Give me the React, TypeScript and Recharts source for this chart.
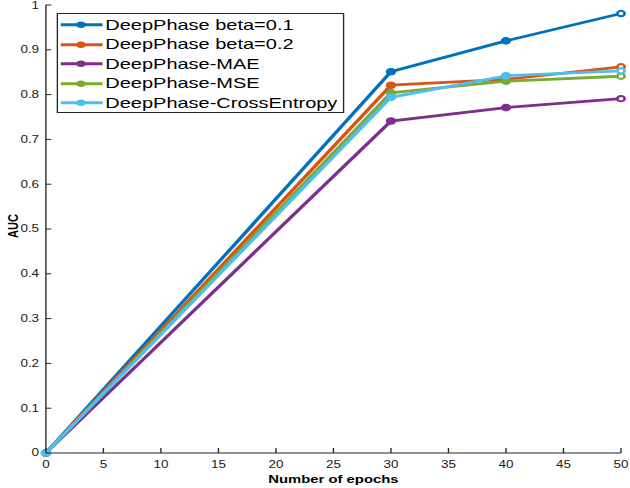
import { LineChart, Line, XAxis, YAxis, Legend } from 'recharts';

// epochs where AUC was measured
const epochs = [0, 30, 40, 50];

// AUC per model
const beta01 = [0, 0.851, 0.92, 0.981];
const beta02 = [0, 0.821, 0.834, 0.862];
const mae = [0, 0.741, 0.771, 0.791];
const mse = [0, 0.804, 0.83, 0.841];
const crossEntropy = [0, 0.794, 0.842, 0.853];

const seriesNames = [
  'DeepPhase beta=0.1',
  'DeepPhase beta=0.2',
  'DeepPhase-MAE',
  'DeepPhase-MSE',
  'DeepPhase-CrossEntropy',
];
const seriesKeys = ['beta01', 'beta02', 'mae', 'mse', 'crossEntropy'];
const seriesColors = ['#0072BD', '#D95319', '#7E2F8E', '#77AC30', '#4DBEEE'];

const xTicks = [0, 5, 10, 15, 20, 25, 30, 35, 40, 45, 50];
const yTicks = [0, 0.1, 0.2, 0.3, 0.4, 0.5, 0.6, 0.7, 0.8, 0.9, 1];

const rows = epochs.map((epoch, i) => ({
  epoch,
  beta01: beta01[i],
  beta02: beta02[i],
  mae: mae[i],
  mse: mse[i],
  crossEntropy: crossEntropy[i],
}));

// the original figure is stretched sideways, so draw narrow and scale
const SX = 1.35;
const W = 467;
const H = 488;
const AXIS = '#262626';
const FONT = '"Liberation Sans", Arial, Helvetica, sans-serif';

const fmtY = (v: number) => (v === 0 || v === 1 ? String(v) : v.toFixed(1));

const BottomTick = (props: any) => {
  const { x, y, payload } = props;
  return (
    <g>
      <line x1={x} x2={x} y1={y} y2={y - 5} stroke={AXIS} />
      <text x={x} y={y + 15} textAnchor="middle" fontSize={10} fill="#1a1a1a" fontFamily={FONT}>
        {payload.value}
      </text>
    </g>
  );
};

const TopTick = (props: any) => {
  const { x, y } = props;
  return <line x1={x} x2={x} y1={y} y2={y + 5} stroke={AXIS} />;
};

const LeftTick = (props: any) => {
  const { x, y, payload } = props;
  return (
    <g>
      <line x1={x} x2={x + 4} y1={y} y2={y} stroke={AXIS} />
      <text x={x - 5} y={y + 3.5} textAnchor="end" fontSize={10} fill="#1a1a1a" fontFamily={FONT}>
        {fmtY(payload.value)}
      </text>
    </g>
  );
};

const RightTick = (props: any) => {
  const { x, y } = props;
  return <line x1={x} x2={x - 4} y1={y} y2={y} stroke={AXIS} />;
};

const makeDot = (color: string) => (props: any) => {
  const { cx, cy, index } = props;
  if (index === epochs.length - 1) {
    return <circle key={index} cx={cx} cy={cy} r={2.7} fill="#fff" stroke={color} strokeWidth={2} />;
  }
  return <circle key={index} cx={cx} cy={cy} r={3.3} fill={color} stroke={color} strokeWidth={1} />;
};

const LegendBox = () => (
  <div
    style={{
      boxSizing: 'border-box',
      width: 213,
      height: 100,
      border: `1px solid ${AXIS}`,
      background: '#fff',
      paddingTop: 1,
      fontFamily: FONT,
      fontSize: 14.8,
      color: '#000',
    }}
  >
    {seriesNames.map((name, i) => (
      <div key={name} style={{ display: 'flex', alignItems: 'center', height: 19.5 }}>
        <svg width={35} height={19.5} style={{ flex: 'none' }}>
          <line x1={2} x2={33} y1={9.75} y2={9.75} stroke={seriesColors[i]} strokeWidth={2.8} />
          <circle cx={17} cy={9.75} r={3.3} fill={seriesColors[i]} />
        </svg>
        <span style={{ whiteSpace: 'nowrap' }}>{name}</span>
      </div>
    ))}
  </div>
);

const AucLabel = (props: any) => {
  const { viewBox } = props;
  const cy = viewBox.y + viewBox.height / 2 - 3;
  return (
    <text
      x={9.6}
      y={cy}
      transform={`rotate(-90 9.6 ${cy})`}
      textAnchor="middle"
      dominantBaseline="central"
      fontSize={11}
      fontWeight="bold"
      fill="#000"
      fontFamily={FONT}
    >
      AUC
    </text>
  );
};

export default function App() {
  return (
    <div style={{ position: 'absolute', left: 0, top: 0, width: 630, height: H, overflow: 'hidden', background: '#fff' }}>
      <div style={{ width: W, height: H, transform: `scaleX(${SX})`, transformOrigin: '0 0' }}>
        <LineChart width={W} height={H} data={rows} margin={{ top: 5, right: 7, bottom: 0, left: 0 }}>
          <XAxis
            dataKey="epoch"
            type="number"
            domain={[0, 50]}
            ticks={xTicks}
            interval={0}
            height={35}
            tickLine={false}
            tickSize={0}
            tickMargin={0}
            axisLine={{ stroke: AXIS }}
            tick={<BottomTick />}
            label={{
              value: 'Number of epochs',
              position: 'insideBottom',
              offset: 5,
              fontSize: 11,
              fontWeight: 'bold',
              fill: '#000',
              fontFamily: FONT,
            }}
          />
          <XAxis
            xAxisId="top"
            orientation="top"
            dataKey="epoch"
            type="number"
            domain={[0, 50]}
            ticks={xTicks}
            interval={0}
            height={0}
            tickLine={false}
            tickSize={0}
            tickMargin={0}
            axisLine={{ stroke: AXIS }}
            tick={<TopTick />}
          />
          <YAxis
            type="number"
            domain={[0, 1]}
            ticks={yTicks}
            interval={0}
            width={34}
            tickLine={false}
            tickSize={0}
            tickMargin={0}
            axisLine={{ stroke: AXIS }}
            tick={<LeftTick />}
            label={<AucLabel />}
          />
          <YAxis
            yAxisId="right"
            orientation="right"
            type="number"
            domain={[0, 1]}
            ticks={yTicks}
            interval={0}
            width={0}
            tickLine={false}
            tickSize={0}
            tickMargin={0}
            axisLine={{ stroke: AXIS }}
            tick={<RightTick />}
          />
          <Legend
            layout="vertical"
            align="center"
            verticalAlign="middle"
            wrapperStyle={{ top: 13, left: 42, width: 213, height: 100 }}
            content={<LegendBox />}
          />
          {seriesKeys.map((key, i) => (
            <Line
              key={key}
              type="linear"
              dataKey={key}
              name={seriesNames[i]}
              stroke={seriesColors[i]}
              strokeWidth={2.8}
              dot={makeDot(seriesColors[i])}
              activeDot={false}
              isAnimationActive={false}
            />
          ))}
        </LineChart>
      </div>
    </div>
  );
}
